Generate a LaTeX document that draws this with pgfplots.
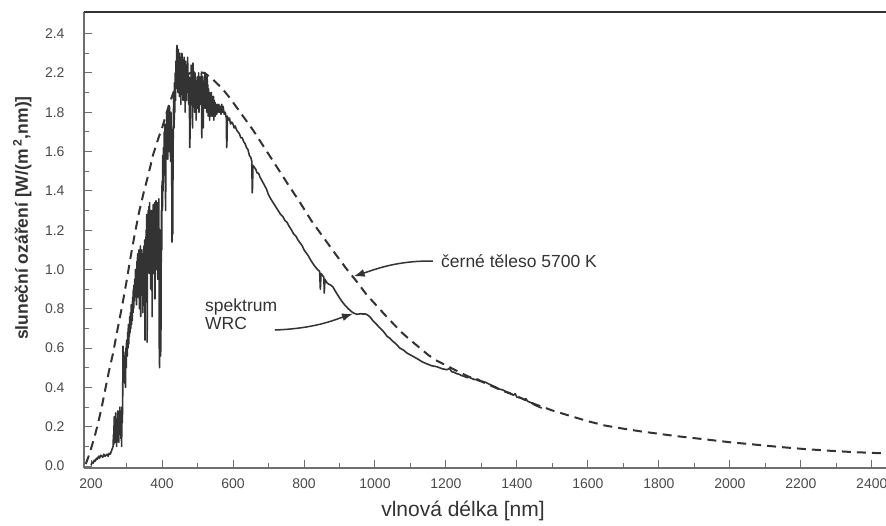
\documentclass[border=0pt]{standalone}
\usepackage{fontspec}
\setmainfont{Liberation Sans}
\usepackage{pgfplots}
\pgfplotsset{compat=1.18}
\usetikzlibrary{arrows.meta}
\definecolor{ink}{HTML}{333333}
\definecolor{axisgray}{HTML}{6E6E6E}
\definecolor{labelgray}{HTML}{4A4A4A}
\begin{document}
\begin{tikzpicture}
\path[use as bounding box] (0pt,0pt) rectangle (886pt,526pt);
\begin{axis}[
  at={(84pt,58pt)}, anchor=south west,
  scale only axis, width=802pt, height=456pt,
  xmin=180, xmax=2440, ymin=-0.01, ymax=2.31,
  clip=false,
  axis x line*=bottom, axis y line*=left,
  axis line style={-, axisgray, line width=1.6pt},
  xtick={200,400,600,800,1000,1200,1400,1600,1800,2000,2200,2400},
  minor xtick={300,500,700,900,1100,1300,1500,1700,1900,2100,2300},
  ytick={0,0.2,0.4,0.6,0.8,1.0,1.2,1.4,1.6,1.8,2.0,2.2},
  yticklabels={0.0,0.2,0.4,0.6,0.8,1.0,1.2,1.4,1.6,1.8,2.2,2.4},
  minor ytick={0.1,0.3,0.5,0.7,0.9,1.1,1.3,1.5,1.7,1.9,2.1},
  tick align=inside,
  major tick length=8pt, minor tick length=5pt,
  tick style={axisgray, line width=1pt},
  /pgf/number format/1000 sep={},
  /pgf/number format/assume math mode=true,
  xticklabel style={font=\fontsize{14}{15}\selectfont, text=labelgray, yshift=-7pt},
  yticklabel style={font=\fontsize{14}{15}\selectfont, text=labelgray, xshift=-16pt},
  xlabel={vlnová délka [nm]},
  ylabel={\bfseries sluneční ozáření [W/(m\,\textsuperscript{2},nm)]},
  every axis x label/.style={at={(axis description cs:0.4726,-0.0943)}, anchor=center, font=\fontsize{21}{23}\selectfont, text=ink},
  every axis y label/.style={at={(axis description cs:-0.077,0.548)}, anchor=center, rotate=90, font=\fontsize{17.5}{19}\selectfont, text=ink},
]
% black body 5700 K (dashed)
\addplot[ink, line width=2pt, dash pattern=on 9pt off 6pt] coordinates {
(185,0.01) (190,0.035) (195,0.06) (200,0.09) (210,0.15) (220,0.22) (230,0.30)
(240,0.39) (250,0.48) (262,0.575) (275,0.70) (287,0.81) (300,0.94) (310,1.05)
(322,1.17) (335,1.29) (348,1.39) (361,1.48) (375,1.585) (390,1.67) (400,1.72)
(420,1.84) (442,1.95) (460,1.98) (480,2.00) (500,2.005) (520,2.00) (544,1.965)
(570,1.92) (592,1.87) (620,1.80) (656,1.71) (690,1.615) (724,1.52) (756,1.43)
(789,1.34) (820,1.25) (854,1.165) (888,1.08) (921,1.00) (950,0.935) (977,0.87)
(1000,0.825) (1025,0.775) (1051,0.725) (1075,0.68) (1100,0.64) (1127,0.60)
(1150,0.565) (1175,0.535) (1203,0.51) (1240,0.475) (1276,0.445) (1300,0.43)
(1350,0.39) (1400,0.355) (1450,0.315) (1501,0.282) (1550,0.255) (1600,0.228)
(1648,0.206) (1700,0.19) (1750,0.176) (1783,0.168) (1850,0.152) (1924,0.137)
(2000,0.121) (2065,0.11) (2140,0.097) (2206,0.087) (2280,0.078) (2346,0.071)
(2400,0.067) (2440,0.064)
};
% measured solar spectrum (WRC)
\addplot[ink, line width=1.6pt, line join=round] coordinates {
(200,0.005) (203,0.02) (206,0.015) (209,0.03) (212,0.025) (215,0.04) (218,0.035)
(221,0.05) (224,0.04) (227,0.055) (230,0.05) (233,0.045) (236,0.06) (239,0.05)
(242,0.055) (245,0.06) (248,0.05) (251,0.065) (254,0.06) (257,0.075) (260,0.09)
(262,0.10) (263,0.16) (264,0.11) (265,0.25) (266,0.13) (267,0.22) (268,0.12)
(269,0.27) (270,0.15) (271,0.20) (272,0.10) (273,0.24) (274,0.14) (275,0.28)
(276,0.18) (277,0.26) (278,0.12) (279,0.22) (280,0.16) (281,0.30) (282,0.20)
(283,0.28) (284,0.14) (285,0.25) (286,0.10) (287,0.30) (288,0.22) (289,0.34)
(290,0.61) (291,0.50) (292,0.58) (293,0.46) (294,0.56) (295,0.42) (296,0.54)
(297,0.40) (298,0.60) (299,0.50) (300,0.64) (302,0.56) (303,0.68) (304,0.60)
(305,0.72) (306,0.62) (307,0.70) (308,0.66) (309,0.76) (310,0.68) (311,0.78)
(312,0.70) (313,0.82) (314,0.72) (315,0.80) (316,0.74) (317,0.86) (318,0.78)
(319,0.90) (320,0.80) (321,0.92) (322,0.84) (323,0.95) (324,0.86) (325,1.00)
(326,0.88) (327,0.96) (328,0.82) (329,1.04) (330,0.90) (331,1.08) (332,0.86)
(333,1.00) (334,0.92) (335,1.10) (336,0.80) (337,1.04) (338,0.94) (339,1.12)
(340,0.76) (341,1.05) (342,0.95) (343,1.10) (344,0.98) (345,1.06) (346,0.78)
(347,1.08) (348,0.96) (349,1.12) (350,1.00) (351,1.15) (352,0.64) (353,1.06)
(354,0.98) (355,1.20) (356,1.02) (357,1.28) (358,0.63) (359,1.24) (360,1.06)
(361,1.30) (362,1.10) (363,1.32) (364,0.98) (365,1.34) (366,1.08) (367,1.28)
(368,0.90) (369,1.22) (370,1.04) (371,1.30) (372,0.76) (373,1.24) (374,1.08)
(375,1.33) (376,0.98) (377,1.26) (378,1.10) (379,1.34) (380,0.85) (381,1.30)
(382,1.12) (383,1.35) (384,1.00) (385,1.28) (386,1.16) (387,1.34) (388,0.95)
(389,1.30) (390,1.05) (391,1.36) (392,0.62) (393,0.50) (394,0.98) (395,1.20)
(396,0.56) (397,0.72) (398,1.30) (399,1.10) (400,1.45) (401,1.30) (402,1.58)
(403,1.40) (404,1.62) (405,1.48) (406,1.70) (407,1.52) (408,1.74) (409,1.60)
(410,1.30) (411,1.72) (412,1.58) (413,1.80) (414,1.62) (415,1.78) (416,1.56)
(417,1.82) (418,1.66) (419,1.76) (420,1.60) (421,1.83) (422,1.68) (423,1.78)
(424,1.55) (425,1.80) (426,1.70) (427,1.62) (428,1.14) (429,1.30) (430,1.18)
(431,1.60) (432,1.78) (433,1.90) (434,1.72) (435,1.95) (436,1.80) (437,2.00)
(438,1.86) (439,2.06) (440,1.92) (441,2.10) (442,2.14) (443,1.96) (444,2.08)
(445,1.90) (446,2.12) (447,1.94) (448,2.06) (449,1.88) (450,2.10) (451,1.96)
(452,2.04) (453,1.84) (454,2.08) (455,1.92) (456,2.10) (457,1.98) (458,2.06)
(459,1.86) (460,2.04) (461,1.94) (462,2.08) (463,1.90) (464,2.02) (465,1.80)
(466,2.06) (467,1.92) (468,2.04) (469,1.86) (470,2.02) (471,1.90) (472,2.08)
(473,1.94) (474,2.00) (475,1.84) (476,1.98) (477,1.88) (478,1.62) (479,1.70)
(480,1.96) (481,1.86) (482,2.04) (483,1.90) (484,2.02) (485,1.86) (486,1.72)
(487,2.05) (488,1.90) (489,2.00) (490,1.84) (491,1.96) (492,1.80) (493,2.00)
(494,1.88) (495,1.96) (496,1.76) (497,1.94) (498,1.84) (499,1.98) (500,1.82)
(501,1.96) (502,1.86) (503,2.00) (504,1.80) (505,1.94) (506,1.88) (507,1.98)
(508,1.84) (509,1.96) (510,1.86) (511,2.00) (512,1.67) (513,1.92) (514,1.80)
(515,1.98) (516,1.72) (517,1.94) (518,1.82) (519,1.96) (520,1.86) (521,2.00)
(522,1.82) (523,1.94) (524,1.86) (525,1.98) (526,1.80) (527,1.99) (528,1.84)
(529,1.94) (530,1.78) (531,1.92) (532,1.84) (533,1.90) (534,1.76) (535,1.90)
(536,1.82) (537,1.88) (538,1.78) (539,1.90) (540,1.80) (541,1.88) (542,1.78)
(543,1.86) (544,1.82) (545,1.88) (546,1.76) (547,1.86) (548,1.80) (549,1.85)
(550,1.78) (552,1.84) (554,1.79) (556,1.84) (558,1.80) (560,1.84) (562,1.80)
(564,1.83) (566,1.79) (568,1.84) (570,1.80) (572,1.83) (575,1.79) (578,1.80)
(581,1.77) (582,1.62) (583,1.66) (584,1.78) (587,1.76) (590,1.77) (593,1.74)
(596,1.75) (600,1.74) (603,1.72) (606,1.73) (610,1.71) (614,1.70) (618,1.69)
(622,1.67) (626,1.67) (630,1.65) (634,1.64) (638,1.62) (642,1.61) (646,1.58)
(650,1.57) (653,1.55) (654,1.39) (655,1.42) (656,1.53) (660,1.52) (664,1.51)
(668,1.49) (672,1.49) (676,1.47) (682,1.45) (688,1.43) (694,1.41) (700,1.38)
(706,1.36) (713,1.34) (720,1.32) (727,1.30) (734,1.28) (740,1.27) (746,1.25)
(752,1.24) (758,1.22) (765,1.20) (771,1.18) (777,1.17) (783,1.15) (789,1.135)
(795,1.12) (800,1.10) (806,1.085) (812,1.07) (818,1.05) (825,1.03) (831,1.015)
(838,1.00) (844,0.99) (846,0.90) (848,0.98) (852,0.97) (856,0.96) (857,0.88)
(859,0.95) (862,0.94) (866,0.93) (870,0.925) (876,0.92) (882,0.91) (888,0.89)
(895,0.87) (902,0.85) (910,0.83) (917,0.815) (925,0.80) (931,0.79) (938,0.78)
(944,0.775) (950,0.772) (960,0.775) (966,0.773) (972,0.774) (978,0.77) (985,0.76)
(994,0.74) (1002,0.725) (1010,0.71) (1018,0.695) (1026,0.68) (1034,0.66)
(1042,0.65) (1050,0.635) (1060,0.62) (1070,0.60) (1080,0.59) (1090,0.575)
(1100,0.565) (1110,0.555) (1120,0.545) (1133,0.53) (1146,0.52) (1160,0.51)
(1175,0.505) (1189,0.495) (1203,0.49) (1210,0.497) (1216,0.48) (1223,0.477)
(1230,0.47) (1237,0.467) (1244,0.46) (1250,0.457) (1259,0.45) (1266,0.452)
(1273,0.445) (1280,0.44) (1290,0.442) (1296,0.435) (1304,0.43) (1312,0.426)
(1320,0.418) (1330,0.41) (1340,0.402) (1350,0.392) (1360,0.387) (1370,0.378)
(1380,0.372) (1390,0.36) (1395,0.368) (1400,0.35) (1410,0.347) (1420,0.338)
(1425,0.343) (1430,0.33) (1440,0.322) (1450,0.31) (1460,0.302) (1470,0.295)
};
% top frame line
\draw[ink, line width=1.8pt] (rel axis cs:0,1) -- (rel axis cs:1,1);
% annotations
\node[anchor=west, font=\fontsize{17.5}{18}\selectfont, text=ink, inner sep=0pt] at (axis cs:1186,1.04) {černé těleso 5700 K};
\draw[ink, line width=1.5pt, -{Latex[length=11pt,width=8pt]}] (axis cs:1163,1.043) .. controls (axis cs:1060,1.045) and (axis cs:1000,1.0) .. (axis cs:940,0.965);
\node[anchor=west, align=left, font=\fontsize{17.5}{18}\selectfont, text=ink, inner sep=0pt] at (axis cs:521,0.774) {spektrum\\WRC};
\draw[ink, line width=1.5pt, -{Latex[length=11pt,width=8pt]}] (axis cs:718,0.692) .. controls (axis cs:830,0.70) and (axis cs:880,0.74) .. (axis cs:938,0.775);
\end{axis}
\end{tikzpicture}
\end{document}
